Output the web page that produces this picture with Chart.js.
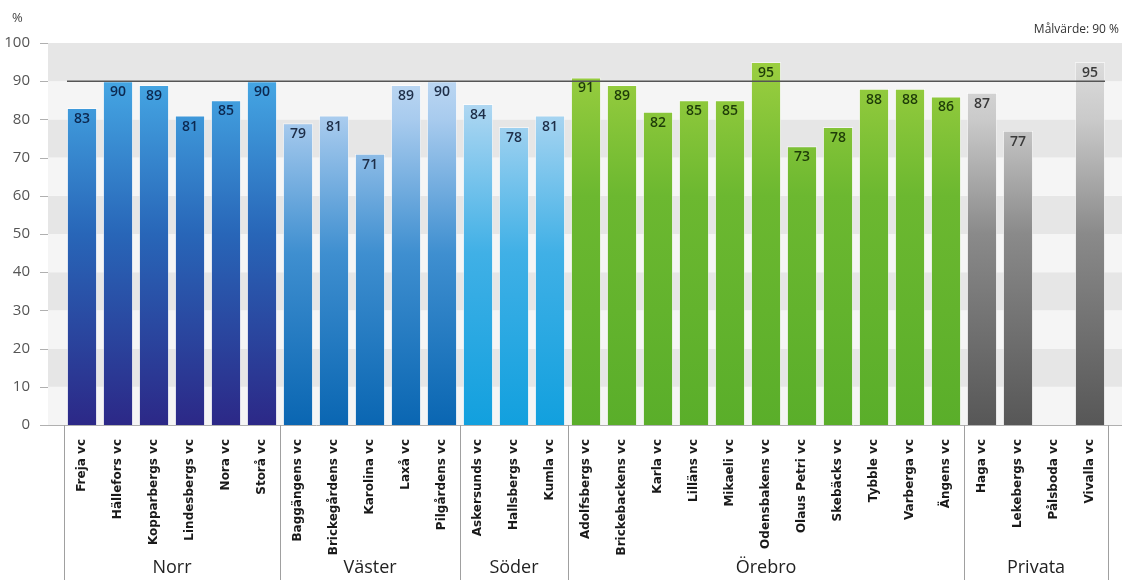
<!DOCTYPE html>
<html>
<head>
<meta charset="utf-8">
<script src="https://cdn.jsdelivr.net/npm/chart.js@4.4.0/dist/chart.umd.min.js"></script>
<style>
  html, body { margin: 0; padding: 0; background: #fff; }
  #wrap { width: 1122px; height: 580px; position: relative; }
</style>
</head>
<body>
<div id="wrap"><canvas id="diagram"></canvas></div>
<script>
// grupper och vårdcentraler
const grupper = ['Norr', 'Väster', 'Söder', 'Örebro', 'Privata'];
const norrNamn = ['Freja vc', 'Hällefors vc', 'Kopparbergs vc', 'Lindesbergs vc', 'Nora vc', 'Storå vc'];
const vasterNamn = ['Baggängens vc', 'Brickegårdens vc', 'Karolina vc', 'Laxå vc', 'Pilgårdens vc'];
const soderNamn = ['Askersunds vc', 'Hallsbergs vc', 'Kumla vc'];
const orebroNamn = ['Adolfsbergs vc', 'Brickebackens vc', 'Karla vc', 'Lilläns vc', 'Mikaeli vc', 'Odensbakens vc', 'Olaus Petri vc', 'Skebäcks vc', 'Tybble vc', 'Varberga vc', 'Ängens vc'];
const privataNamn = ['Haga vc', 'Lekebergs vc', 'Pålsboda vc', 'Vivalla vc'];

// värden i procent
const norrVarden = [83, 90, 89, 81, 85, 90];
const vasterVarden = [79, 81, 71, 89, 90];
const soderVarden = [84, 78, 81];
const orebroVarden = [91, 89, 82, 85, 85, 95, 73, 78, 88, 88, 86];
const privataVarden = [87, 77, null, 95];

const malvarde = 90;
const yTicks = [0, 10, 20, 30, 40, 50, 60, 70, 80, 90, 100];

const namnPerGrupp = [norrNamn, vasterNamn, soderNamn, orebroNamn, privataNamn];
const vardenPerGrupp = [norrVarden, vasterVarden, soderVarden, orebroVarden, privataVarden];

// färger per grupp (gradient från botten till topp)
const gradientStopp = [
  [[0, '#2c2887'], [0.5, '#2866b8'], [1, '#4cb6ee']],
  [[0, '#0a66b2'], [0.45, '#3f8fd0'], [0.8, '#a8cbee'], [1, '#cfe2f6']],
  [[0, '#12a0de'], [0.45, '#40b0e6'], [0.85, '#b2d8f2'], [1, '#cce6f7']],
  [[0, '#5aae2a'], [0.6, '#6cb830'], [1, '#a2d242']],
  [[0, '#575757'], [0.5, '#8a8a8a'], [0.8, '#cacaca'], [1, '#e2e2e2']]
];
const textFarg = ['#0c2850', '#1e2e48', '#1e2e48', '#1e3c08', '#3a3a3a'];

const labels = [].concat(...namnPerGrupp);
const varden = [].concat(...vardenPerGrupp);
const gruppIndex = [];
namnPerGrupp.forEach((n, g) => n.forEach(() => gruppIndex.push(g)));

const cache = {};
function fyllning(ctx) {
  const chart = ctx.chart;
  const area = chart.chartArea;
  const g = gruppIndex[ctx.dataIndex];
  if (!area) return gradientStopp[g][0][1];
  const key = g + '_' + area.top + '_' + area.bottom;
  if (!cache[key]) {
    const grad = chart.ctx.createLinearGradient(0, area.bottom, 0, area.top);
    gradientStopp[g].forEach(s => grad.addColorStop(s[0], s[1]));
    cache[key] = grad;
  }
  return cache[key];
}

const bakgrund = {
  id: 'bakgrund',
  beforeDatasetsDraw(chart) {
    const c = chart.ctx, y = chart.scales.y, a = chart.chartArea;
    c.save();
    for (let i = 0; i < 10; i++) {
      const top = y.getPixelForValue(i * 10 + 10);
      const bot = y.getPixelForValue(i * 10);
      c.fillStyle = i % 2 === 1 ? '#e6e6e6' : '#f5f5f5';
      c.fillRect(48, top, 1122 - 48, bot - top);
    }
    c.strokeStyle = '#b0b0b0';
    c.lineWidth = 1;
    yTicks.forEach(v => {
      const py = Math.round(y.getPixelForValue(v)) + 0.5;
      c.beginPath(); c.moveTo(40, py); c.lineTo(48, py); c.stroke();
    });
    c.beginPath();
    c.moveTo(48, Math.round(a.bottom) + 0.5);
    c.lineTo(1122, Math.round(a.bottom) + 0.5);
    c.stroke();
    c.restore();
  }
};

const overlag = {
  id: 'overlag',
  afterDatasetsDraw(chart) {
    const c = chart.ctx, x = chart.scales.x, y = chart.scales.y, a = chart.chartArea;
    const meta = chart.getDatasetMeta(0);
    c.save();
    // målvärdeslinje
    const my = y.getPixelForValue(malvarde);
    c.strokeStyle = '#555';
    c.lineWidth = 1.5;
    c.beginPath(); c.moveTo(a.left + 3, my); c.lineTo(a.right - 3, my); c.stroke();

    // värdeetiketter
    c.font = '600 14px "Open Sans"';
    c.textAlign = 'center';
    c.textBaseline = 'middle';
    meta.data.forEach((bar, i) => {
      if (varden[i] == null) return;
      c.fillStyle = textFarg[gruppIndex[i]];
      c.fillText(String(varden[i]), bar.x, bar.y + 11);
    });

    // gruppindelning under axeln
    const steg = x.getPixelForValue(1) - x.getPixelForValue(0);
    c.strokeStyle = '#a0a0a0';
    c.lineWidth = 1;
    c.fillStyle = '#222';
    c.font = '18px "Open Sans"';
    let start = 0;
    namnPerGrupp.forEach((n, g) => {
      const x0 = x.getPixelForValue(start) - steg / 2;
      const x1 = x.getPixelForValue(start + n.length - 1) + steg / 2;
      [x0, x1].forEach(px => {
        const lx = Math.round(px) + 0.5;
        c.beginPath(); c.moveTo(lx, a.bottom); c.lineTo(lx, 580); c.stroke();
      });
      c.fillText(grupper[g], (x0 + x1) / 2, 568);
      start += n.length;
    });

    // rubriker
    c.font = '13px "Open Sans"';
    c.fillStyle = '#444';
    c.textAlign = 'left';
    c.fillText('%', 12, 18);
    c.font = '12px "Open Sans"';
    c.fillStyle = '#333';
    c.textAlign = 'right';
    c.fillText('Målvärde: 90 %', 1119, 30);
    c.restore();
  }
};

new Chart(document.getElementById('diagram'), {
  type: 'bar',
  data: {
    labels: labels,
    datasets: [{
      data: varden,
      backgroundColor: fyllning,
      borderColor: 'rgba(255,255,255,0.55)',
      borderWidth: 1,
      barPercentage: 0.84,
      categoryPercentage: 1
    }]
  },
  options: {
    responsive: true,
    maintainAspectRatio: false,
    animation: false,
    devicePixelRatio: 1,
    layout: { padding: { top: 43, right: 14, left: 0, bottom: 0 } },
    plugins: { legend: { display: false }, tooltip: { enabled: false } },
    scales: {
      y: {
        min: 0, max: 100,
        afterFit(s) { s.width = 64; },
        afterBuildTicks(s) { s.ticks = yTicks.map(v => ({ value: v })); },
        ticks: { color: '#555', font: { family: 'Open Sans', size: 15 }, padding: 26 },
        grid: { display: false },
        border: { display: false }
      },
      x: {
        afterFit(s) { s.height = 155; },
        ticks: {
          autoSkip: false, minRotation: 90, maxRotation: 90,
          color: '#1a1a1a', padding: 6,
          font: { family: 'DejaVu Sans', size: 12, weight: 'bold' }
        },
        grid: { display: false },
        border: { display: false }
      }
    }
  },
  plugins: [bakgrund, overlag]
});
</script>
</body>
</html>
